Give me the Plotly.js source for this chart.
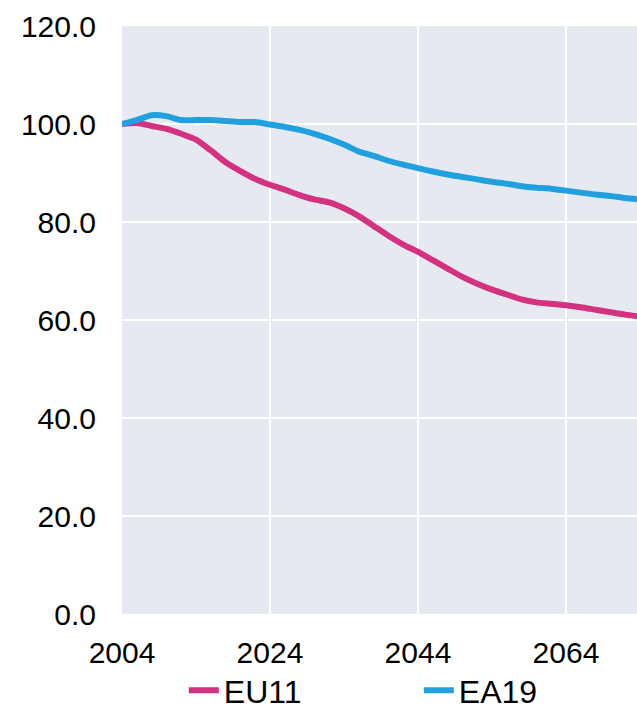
<!DOCTYPE html>
<html>
<head>
<meta charset="utf-8">
<script src="https://cdn.plot.ly/plotly-3.0.1.min.js"></script>
<style>html,body{margin:0;padding:0;background:#fff;}#chart{width:637px;height:717px;}</style>
</head>
<body>
<div id="chart"></div>
<script>
const years = [2004, 2006, 2008, 2010, 2012, 2014, 2016, 2018, 2020, 2022, 2024, 2026, 2028, 2030, 2032, 2034, 2036, 2038, 2040, 2042, 2044, 2046, 2048, 2050, 2052, 2054, 2056, 2058, 2060, 2062, 2064, 2066, 2068, 2070, 2072, 2074];
const eu11 = [100.0, 100.2, 99.6, 99.0, 98.0, 96.8, 94.6, 92.2, 90.4, 88.8, 87.6, 86.6, 85.5, 84.6, 84.0, 82.8, 81.2, 79.2, 77.2, 75.4, 73.9, 72.2, 70.5, 68.8, 67.4, 66.2, 65.2, 64.2, 63.6, 63.3, 63.0, 62.6, 62.1, 61.6, 61.1, 60.7];
const ea19 = [100.0, 100.8, 101.8, 101.6, 100.8, 100.8, 100.8, 100.6, 100.4, 100.4, 99.9, 99.4, 98.8, 98.0, 97.0, 95.8, 94.4, 93.5, 92.5, 91.7, 91.0, 90.3, 89.7, 89.2, 88.7, 88.2, 87.8, 87.3, 87.0, 86.8, 86.4, 86.0, 85.6, 85.3, 84.9, 84.6];
const yTicks = [0, 20, 40, 60, 80, 100, 120];
const xTicks = [2004, 2024, 2044, 2064];

const traces = [
  {x: years, y: eu11, name: 'EU11', type: 'scatter', mode: 'lines',
   line: {color: '#D2327F', width: 6, shape: 'spline', smoothing: 0.6}},
  {x: years, y: ea19, name: 'EA19', type: 'scatter', mode: 'lines',
   line: {color: '#21A0E0', width: 6, shape: 'spline', smoothing: 0.6}}
];

const font = {family: 'Liberation Sans, Arial, sans-serif', size: 30, color: '#000'};
const legendFont = {family: 'Liberation Sans, Arial, sans-serif', size: 32, color: '#000'};

const layout = {
  width: 637, height: 717,
  margin: {l: 122, r: 0, t: 26, b: 103, autoexpand: false},
  paper_bgcolor: '#ffffff',
  plot_bgcolor: '#E7E9F1',
  font: font,
  showlegend: true,
  legend: {orientation: 'h', x: 0.12, xanchor: 'left', y: -0.13, yanchor: 'middle',
           font: legendFont, entrywidth: 190, entrywidthmode: 'pixels',
           bgcolor: 'rgba(0,0,0,0)', tracegroupgap: 0},
  xaxis: {range: [2004, 2073.6], tickvals: xTicks, ticktext: xTicks.map(String),
          showgrid: true, gridcolor: '#ffffff', gridwidth: 1.5, zeroline: false,
          showline: false, ticks: '', ticklabelstandoff: 18, tickfont: font, fixedrange: true},
  yaxis: {range: [0, 120], tickvals: yTicks, ticktext: yTicks.map(v => v.toFixed(1)),
          showgrid: true, gridcolor: '#ffffff', gridwidth: 1.5, zeroline: false,
          showline: false, ticks: '', ticklabelstandoff: 25, tickfont: font, fixedrange: true}
};

Plotly.newPlot('chart', traces, layout, {displayModeBar: false, staticPlot: true});
</script>
</body>
</html>
